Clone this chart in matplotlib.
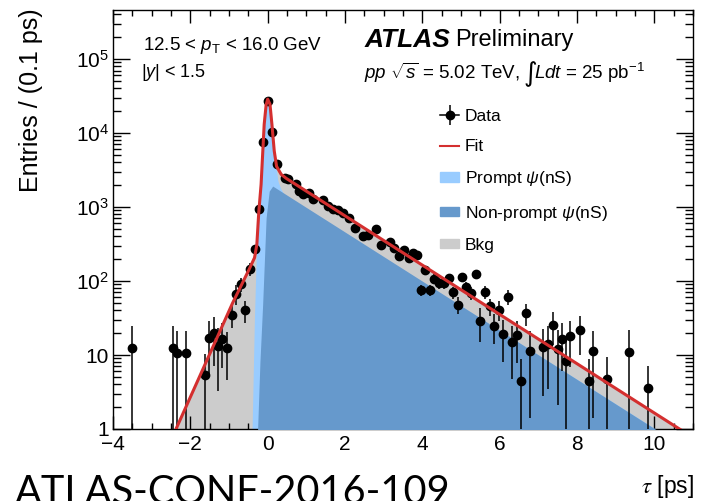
"""Pseudo-proper decay time of psi(nS) candidates with the lifetime fit overlaid."""
import math

import matplotlib
matplotlib.use("Agg")
import matplotlib.pyplot as plt
from matplotlib.lines import Line2D
from matplotlib.patches import Patch
from matplotlib.legend_handler import HandlerTuple
from matplotlib.ticker import FuncFormatter, LogLocator, NullFormatter, MultipleLocator

plt.rcParams["font.family"] = ["Liberation Sans", "DejaVu Sans"]
plt.rcParams["mathtext.fontset"] = "custom"
plt.rcParams["mathtext.rm"] = "Liberation Sans"
plt.rcParams["mathtext.it"] = "Liberation Sans:italic"
plt.rcParams["mathtext.bf"] = "Liberation Sans:bold"

# ---- data points (tau [ps], entries / 0.1 ps, uncertainty) -----------------
tau = [-3.50, -2.44, -2.34, -2.10, -1.62, -1.51, -1.40, -1.28, -1.17, -1.04,
       -0.92, -0.82, -0.70, -0.58, -0.46, -0.34, -0.23, -0.11, 0.00, 0.11,
       0.25, 0.46, 0.52, 0.72, 0.82, 0.92, 1.08, 1.17, 1.42, 1.55,
       1.68, 1.81, 1.94, 2.10, 2.25, 2.47, 2.60, 2.81, 2.94, 3.17,
       3.28, 3.39, 3.52, 3.65, 3.76, 3.87, 3.97, 4.08, 4.21, 4.31,
       4.43, 4.55, 4.68, 4.79, 4.91, 5.03, 5.13, 5.27, 5.38, 5.50,
       5.61, 5.74, 5.85, 5.97, 6.09, 6.21, 6.32, 6.44, 6.55, 6.68,
       6.78, 7.12, 7.25, 7.38, 7.50, 7.60, 7.71, 7.83, 8.08, 8.31,
       8.42, 8.77, 9.35, 9.83]
entries = [12.4, 12.4, 10.8, 10.6, 5.3, 17, 20, 13.3, 16.7, 12.6,
           35, 67, 91, 40, 146, 272, 948, 7670, 27500, 10350,
           3780, 2440, 2370, 2070, 1640, 1515, 1563, 1268, 1230, 1030,
           955, 900, 837, 716, 525, 403, 425, 508, 311, 334,
           281, 216, 266, 206, 240, 228, 76, 143, 76, 107,
           94, 94, 110, 70, 48, 112, 82, 69, 124, 29,
           72, 46, 25, 41, 19, 61, 14.8, 18.4, 4.5, 37,
           11.4, 12.8, 14, 25.6, 12.1, 16.6, 8.4, 17.8, 22, 4.4,
           11.4, 4.75, 11.1, 3.6]
errors = [12, 12, 10.5, 10.5, 5, 12, 13, 10, 10, 8,
          12, 20, 20, 13, 30, 30, 50, 90, 170, 100,
          60, 50, 50, 45, 40, 40, 40, 36, 35, 32,
          31, 30, 29, 27, 24, 21, 21, 23, 19, 19,
          18, 16, 17, 15, 16, 16, 13, 18, 13, 16,
          15, 15, 16, 13, 12, 16, 14, 13, 17, 14,
          14, 12, 11, 12, 11, 14, 10, 10.5, 4.4, 12,
          10, 10, 10.5, 12, 10, 10.5, 8.3, 11, 12, 4.3,
          10, 4.7, 11, 3.5]

# ---- fit model, read at its break points (drawn as straight log segments) --
fit_tau = [-2.37, -0.91, -0.49, -0.34, -0.28, -0.23, -0.17, -0.09, -0.04,
           0.00, 0.06, 0.11, 0.17, 0.23, 0.35, 0.48, 10.65, 11.0]
fit_val = [1.0, 50, 140, 206, 311, 850, 2020, 13100, 24000,
           28700, 24500, 13100, 5720, 3550, 2760, 2440, 1.0, 0.77]

# prompt + non-prompt (stacked)
sig_tau = [-0.39, -0.33, -0.27, -0.20, -0.17, -0.09, 0.00, 0.06, 0.11,
           0.17, 0.23, 0.28, 0.35, 0.43, 10.02, 11.0]
sig_val = [1.0, 30, 363, 1300, 1900, 12800, 28500, 24300, 13000,
           5600, 3300, 2200, 1750, 1480, 1.0, 0.47]

# non-prompt alone
np_tau = [-0.26, -0.20, -0.13, -0.04, 0.04, 0.13, 10.02, 11.0]
np_val = [1.0, 8, 48, 716, 1640, 1920, 1.0, 0.47]

C_PROMPT = "#99ccff"
C_NONPROMPT = "#6699cc"
C_BKG = "#cccccc"
C_FIT = "#d42f2f"
FLOOR = 1e-3

fig = plt.figure(figsize=(7.04, 5.01), dpi=100)
ax = fig.add_axes([113 / 704, 72 / 501, 580 / 704, 419 / 501])

ax.fill_between(fit_tau, FLOOR, fit_val, color=C_BKG, lw=0, zorder=1)
ax.fill_between(sig_tau, FLOOR, sig_val, color=C_PROMPT, lw=0, zorder=2)
ax.fill_between(np_tau, FLOOR, np_val, color=C_NONPROMPT, lw=0, zorder=3)

ax.errorbar(tau, entries, yerr=errors, fmt="o", color="black", ms=6,
            elinewidth=1.1, capsize=0, zorder=4)
ax.plot(fit_tau, fit_val, color=C_FIT, lw=2.2, zorder=5)

ax.set_yscale("log")
ax.set_xlim(-4, 11)
ax.set_ylim(1, 4.6e5)

# ROOT-like ticks on all four sides, pointing inwards
ax.xaxis.set_major_locator(MultipleLocator(2))
ax.xaxis.set_minor_locator(MultipleLocator(0.5))
ax.yaxis.set_major_locator(LogLocator(base=10, numticks=10))
ax.yaxis.set_minor_locator(LogLocator(base=10, subs=range(2, 10), numticks=10))
ax.yaxis.set_minor_formatter(NullFormatter())


def ylab(v, _pos):
    if v == 1:
        return "1"
    if v == 10:
        return "10"
    return r"$10^{%d}$" % round(math.log10(v))


ax.yaxis.set_major_formatter(FuncFormatter(ylab))
ax.xaxis.set_major_formatter(FuncFormatter(lambda v, _p: f"{v:.0f}".replace("-", "\u2212")))
ax.tick_params(which="both", direction="in", top=True, right=True, width=1.0)
ax.tick_params(axis="x", which="major", length=9.5, labelsize=15, pad=4)
ax.tick_params(axis="x", which="minor", length=4.5)
ax.tick_params(axis="y", which="major", length=12, labelsize=15, pad=3)
ax.tick_params(axis="y", which="minor", length=6)
for s in ax.spines.values():
    s.set_linewidth(1.0)

# labels
fig.text(31 / 704, 1 - 100 / 501, "Entries / (0.1 ps)", rotation=90,
         ha="center", va="center", fontsize=18)
fig.text(667 / 704, 1 - 486 / 501, r"$\tau$ [ps]", ha="center", va="center",
         fontsize=16.5, math_fontfamily="stix")
fig.text(15 / 704, -3 / 501, "ATLAS-CONF-2016-109", ha="left", va="baseline",
         fontsize=28.5, family="Lato")

# plot annotations
ax.text(0.052, 0.916, r"12.5 < $p_{\mathrm{T}}$ < 16.0 GeV", transform=ax.transAxes,
        fontsize=13.5, va="center", ha="left")
ax.text(0.048, 0.850, r"$|y|$ < 1.5", transform=ax.transAxes,
        fontsize=13, va="center", ha="left")
ax.text(0.434, 0.928, "ATLAS", transform=ax.transAxes, fontsize=19,
        fontweight="bold", fontstyle="italic", va="center", ha="left")
ax.text(0.590, 0.928, "Preliminary", transform=ax.transAxes, fontsize=17,
        va="center", ha="left")
ax.text(0.432, 0.850, r"$pp$ $\sqrt{s}$ = 5.02 TeV,",
        transform=ax.transAxes, fontsize=13.5, va="center", ha="left")
ax.text(0.708, 0.846, "\u222b", transform=ax.transAxes, fontsize=19,
        va="center", ha="left", family=["DejaVu Sans"])
ax.text(0.726, 0.850, r"$Ldt$ = 25 pb$^{-1}$",
        transform=ax.transAxes, fontsize=13.5, va="center", ha="left")

handles = [
    (Line2D([], [], color="black", lw=1.1, marker="o", ms=6),
     Line2D([], [], color="black", marker="|", ms=14, mew=1.1, ls="none")),
    Line2D([], [], color=C_FIT, lw=1.5),
    Patch(color=C_PROMPT),
    Patch(color=C_NONPROMPT),
    Patch(color=C_BKG),
]
labels = ["Data", "Fit", r"Prompt $\psi$(nS)", r"Non-prompt $\psi$(nS)", "Bkg"]
ax.legend(handles, labels, loc="upper left", bbox_to_anchor=(0.548, 0.785),
          frameon=False, fontsize=12.5, handlelength=1.15, handleheight=0.45,
          handletextpad=0.3, labelspacing=0.88, borderpad=0,
          handler_map={tuple: HandlerTuple(ndivide=1, pad=0)})

fig.savefig("out.png", dpi=100, facecolor="white")
